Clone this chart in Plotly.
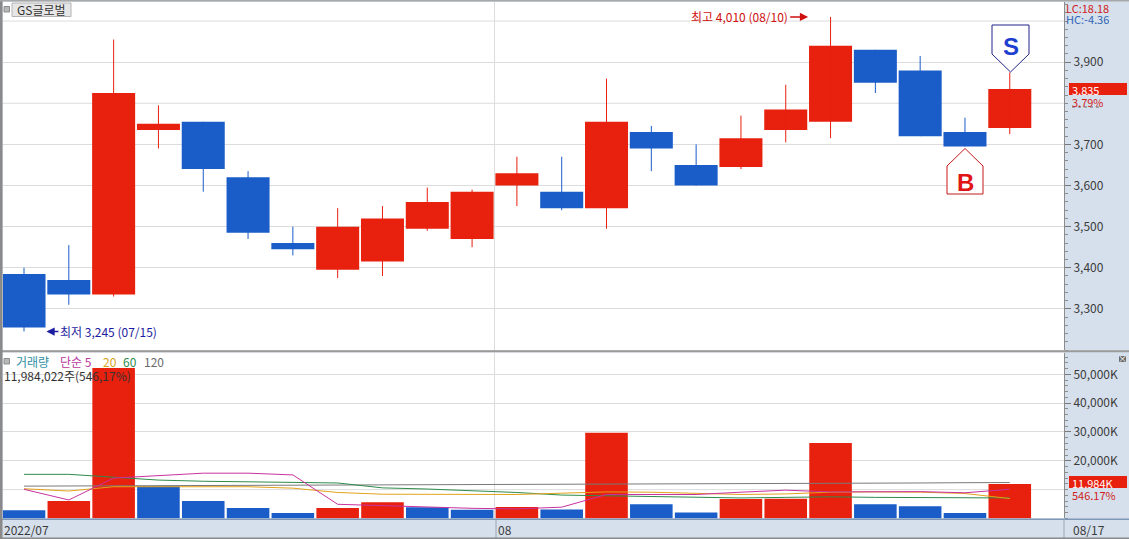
import plotly.graph_objects as go

# ---------------- data ----------------
dates = ["07/15", "07/18", "07/19", "07/20", "07/21", "07/22", "07/25", "07/26",
         "07/27", "07/28", "07/29", "08/01", "08/02", "08/03", "08/04", "08/05",
         "08/08", "08/09", "08/10", "08/11", "08/12", "08/16", "08/17"]

open_ = [3385, 3370, 3335, 3735, 3755, 3620, 3460, 3395, 3415, 3495, 3470, 3600,
         3585, 3545, 3730, 3650, 3645, 3735, 3755, 3930, 3880, 3730, 3740]
high = [3400, 3455, 3955, 3795, 3755, 3635, 3500, 3545, 3550, 3595, 3590, 3670,
        3670, 3860, 3745, 3700, 3770, 3845, 4010, 3930, 3915, 3765, 3875]
low = [3245, 3310, 3330, 3690, 3585, 3470, 3430, 3375, 3380, 3490, 3450, 3550,
       3540, 3495, 3635, 3600, 3640, 3705, 3715, 3825, 3720, 3695, 3725]
close = [3255, 3335, 3825, 3750, 3640, 3485, 3445, 3500, 3520, 3560, 3585, 3630,
         3545, 3755, 3690, 3600, 3715, 3785, 3940, 3850, 3720, 3695, 3835]

# volume in thousand shares
volume_k = [2800, 6000, 52200, 11200, 6000, 3600, 1850, 3600, 5600, 3850, 3000, 3950,
            3100, 29700, 4900, 2050, 6700, 6800, 26200, 4900, 4200, 1855, 11984]

ma5_k = [10100, 6400, 14000, 14900, 15700, 15700, 15100, 4900, 4400, 4100, 3500, 3300,
         3900, 8300, 8300, 8300, 9100, 9800, 9200, 9200, 9300, 8900, 10100]
ma20_k = [10300, 9500, 11000, 11000, 11000, 11000, 10500, 9000, 8400, 8300, 8300, 8300,
          8750, 9200, 9100, 8750, 8300, 8500, 9100, 9200, 9100, 8650, 6900]
ma60_k = [15300, 15300, 14300, 13300, 12900, 12800, 12500, 12300, 10600, 10200, 9700, 9000,
          8100, 7800, 7500, 7300, 7100, 7300, 7500, 7300, 7300, 7100, 7100]
ma120_k = [11200, 11250, 11300, 11350, 11400, 11400, 11450, 11500, 11500, 11550, 11600, 11650,
           11700, 11750, 11800, 11850, 11900, 12000, 12100, 12200, 12300, 12400, 12450]

price_ticks = [3300, 3400, 3500, 3600, 3700, 3900]
price_tick_text = ["3,300", "3,400", "3,500", "3,600", "3,700", "3,900"]
price_extra_grid = [3800, 4000]          # gridlines whose labels are hidden
vol_ticks = [20000, 30000, 40000, 50000]
vol_tick_text = ["20,000K", "30,000K", "40,000K", "50,000K"]
vol_extra_grid = [10000]

# ---------------- styling ----------------
W, H = 1129, 539
RED = "#E8200E"
BLUE = "#1A5CC8"
BG_AXIS = "#D6E0EC"
GRID = "#DCDCDC"
FONT = "Noto Sans CJK KR"


def fx(px):
    return px / W


def fy(py):
    return 1 - py / H


idx = list(range(len(dates)))
candle_colors = [RED if c >= o else BLUE for o, c in zip(open_, close)]
body_base = [min(o, c) for o, c in zip(open_, close)]
body_h = [max(abs(c - o), 2) for o, c in zip(open_, close)]

vol_colors = [BLUE] + [RED if volume_k[i] > volume_k[i - 1] else BLUE for i in range(1, len(volume_k))]

fig = go.Figure()

# wicks
for col in (RED, BLUE):
    wx, wy = [], []
    for i in idx:
        if candle_colors[i] == col:
            wx += [i, i, None]
            wy += [low[i], high[i], None]
    fig.add_trace(go.Scatter(x=wx, y=wy, mode="lines", line=dict(color=col, width=1),
                             hoverinfo="skip", xaxis="x", yaxis="y"))

# bodies
fig.add_trace(go.Bar(x=idx, y=body_h, base=body_base, width=0.96,
                     marker=dict(color=candle_colors, line=dict(width=0)),
                     customdata=dates, xaxis="x", yaxis="y"))

# volume
fig.add_trace(go.Bar(x=idx, y=volume_k, width=0.95,
                     marker=dict(color=vol_colors, line=dict(width=0)),
                     xaxis="x2", yaxis="y2"))

for vals, col in ((ma120_k, "#7A7A7A"), (ma60_k, "#2E8B4A"), (ma20_k, "#E3A21A"), (ma5_k, "#C8329E")):
    fig.add_trace(go.Scatter(x=idx, y=vals, mode="lines", line=dict(color=col, width=1),
                             xaxis="x2", yaxis="y2", hoverinfo="skip"))

xr = [-0.469, 23.21]
tickfont = dict(family=FONT, size=12, color="#3A3A3A")

fig.update_layout(
    template="none",
    width=W, height=H,
    margin=dict(l=0, r=0, t=0, b=0),
    paper_bgcolor=BG_AXIS,
    plot_bgcolor="white",
    showlegend=False,
    barmode="overlay",
    xaxis=dict(domain=[fx(3), fx(1064)], range=xr, showticklabels=False, showgrid=False,
               zeroline=False, ticks="", anchor="y", automargin=False),
    xaxis2=dict(domain=[fx(3), fx(1064)], range=xr, showticklabels=False, showgrid=False,
                zeroline=False, ticks="", anchor="y2", automargin=False),
    yaxis=dict(domain=[fy(350), fy(2)], range=[3200, 4046.3], side="right", anchor="x",
               tickvals=price_ticks, ticktext=price_tick_text, ticks="outside", ticklen=6,
               tickcolor="#7A7A7A", showline=True, linecolor="#8C8C8C", linewidth=1,
               showgrid=True, gridcolor=GRID, gridwidth=1, zeroline=False,
               tickfont=tickfont, automargin=False,
               minor=dict(dtick=20, ticks="outside", ticklen=3, tickcolor="#8C8C8C", showgrid=False)),
    yaxis2=dict(domain=[fy(518.4), fy(352.5)], range=[0, 57600], side="right", anchor="x2",
                tickvals=vol_ticks, ticktext=vol_tick_text, ticks="outside", ticklen=6,
                tickcolor="#7A7A7A", showline=True, linecolor="#8C8C8C", linewidth=1,
                showgrid=True, gridcolor=GRID, gridwidth=1, zeroline=False,
                tickfont=tickfont, automargin=False,
                minor=dict(dtick=2000, ticks="outside", ticklen=3, tickcolor="#8C8C8C", showgrid=False)),
)

shapes = []
# unlabeled gridlines
for v in price_extra_grid:
    shapes.append(dict(type="line", xref="x domain", yref="y", x0=0, x1=1, y0=v, y1=v,
                       line=dict(color=GRID, width=1), layer="below"))
for v in vol_extra_grid:
    shapes.append(dict(type="line", xref="x2 domain", yref="y2", x0=0, x1=1, y0=v, y1=v,
                       line=dict(color=GRID, width=1), layer="below"))
# month boundary gridlines
shapes.append(dict(type="line", xref="x", yref="y domain", x0=10.5, x1=10.5, y0=0, y1=1,
                   line=dict(color=GRID, width=1), layer="below"))
shapes.append(dict(type="line", xref="x2", yref="y2 domain", x0=10.5, x1=10.5, y0=0, y1=1,
                   line=dict(color=GRID, width=1), layer="below"))
# panel separator
shapes.append(dict(type="line", xref="paper", yref="paper", x0=0, x1=1, y0=fy(351.2), y1=fy(351.2),
                   line=dict(color="#9A9A9A", width=2)))
# date axis top line
shapes.append(dict(type="line", xref="paper", yref="paper", x0=0, x1=1, y0=fy(519.2), y1=fy(519.2),
                   line=dict(color="#7F98B8", width=1.5)))
# date axis separators
for px in (496, 1064):
    shapes.append(dict(type="line", xref="paper", yref="paper", x0=fx(px), x1=fx(px),
                       y0=fy(520), y1=fy(538), line=dict(color="#9AA6B4", width=1)))
# window borders
shapes.append(dict(type="rect", xref="paper", yref="paper", x0=0, x1=fx(2.5), y0=0, y1=1,
                   fillcolor="#8A8A8A", line=dict(width=0)))
shapes.append(dict(type="rect", xref="paper", yref="paper", x0=0, x1=1, y0=fy(1.5), y1=1,
                   fillcolor="#A8A8A8", line=dict(width=0)))
shapes.append(dict(type="rect", xref="paper", yref="paper", x0=0, x1=1, y0=0, y1=fy(537.5),
                   fillcolor="#8A8A8A", line=dict(width=0)))
# title button
shapes.append(dict(type="rect", xref="paper", yref="paper", x0=fx(12), x1=fx(71), y0=fy(16.5), y1=fy(3),
                   fillcolor="#E6E6E6", line=dict(color="#B4B4B4", width=1)))
shapes.append(dict(type="rect", xref="paper", yref="paper", x0=fx(4), x1=fx(9.5), y0=fy(12), y1=fy(6.5),
                   fillcolor="#B8B8B8", line=dict(color="#8C8C8C", width=1)))
# volume legend icon
shapes.append(dict(type="rect", xref="paper", yref="paper", x0=fx(4), x1=fx(9.5), y0=fy(364), y1=fy(358.5),
                   fillcolor="#B8B8B8", line=dict(color="#8C8C8C", width=1)))
# close icon
shapes.append(dict(type="rect", xref="paper", yref="paper", x0=fx(1119), x1=fx(1126), y0=fy(362), y1=fy(356),
                   fillcolor="#6A6A6A", line=dict(width=0)))
# current price box
shapes.append(dict(type="rect", xref="paper", yref="paper", x0=fx(1069), x1=fx(1127), y0=fy(95), y1=fy(83),
                   fillcolor=RED, line=dict(width=0)))
shapes.append(dict(type="line", xref="paper", yref="paper", x0=fx(1072), x1=fx(1101), y0=fy(107), y1=fy(107),
                   line=dict(color="#6A6A6A", width=1, dash="dot")))
# current volume box
shapes.append(dict(type="rect", xref="paper", yref="paper", x0=fx(1069), x1=fx(1127), y0=fy(488), y1=fy(476),
                   fillcolor=RED, line=dict(width=0)))
# S marker (sell)
s_pts = [(992, 25), (1029, 25), (1029, 54), (1010.5, 72), (992, 54)]
shapes.append(dict(type="path", xref="paper", yref="paper",
                   path="M " + " L ".join(f"{fx(a)},{fy(b)}" for a, b in s_pts) + " Z",
                   fillcolor="white", line=dict(color="#22228C", width=1)))
# B marker (buy)
b_pts = [(965, 148.5), (983, 166), (983, 194), (947, 194), (947, 166)]
shapes.append(dict(type="path", xref="paper", yref="paper",
                   path="M " + " L ".join(f"{fx(a)},{fy(b)}" for a, b in b_pts) + " Z",
                   fillcolor="white", line=dict(color="#C41818", width=1)))
fig.update_layout(shapes=shapes)

ann = []


def txt(text, x, y, color="#333333", size=12, xanchor="left", family=FONT, height=None):
    a = dict(text=text, x=fx(x), y=fy(y), xref="paper", yref="paper", showarrow=False,
             xanchor=xanchor, yanchor="middle", font=dict(family=family, size=size, color=color),
             borderpad=0)
    if height:
        a["height"] = height
        a["valign"] = "middle"
    ann.append(a)


txt("GS글로벌", 41.5, 10, "#333333", 12, "center")
txt("LC:18,18", 1065, 7, "#D02020", 11, height=11)
txt("HC:-4,36", 1065, 19, "#2F64B4", 11, height=11)
txt("3,835", 1071, 89, "white", 11, height=11)
txt("3,79%", 1071, 101, "#D02020", 11, height=11)
txt("11,984K", 1071, 482, "white", 11, height=11)
txt("546,17%", 1071, 494, "#D02020", 11, height=11)
txt("×", 1122.5, 358.5, "white", 9, "center")
txt("거래량", 15, 361, "#2F8FA5", 12)
txt("단순 5", 59, 361, "#B8349E", 12)
txt("20", 102, 361, "#D9A21A", 12)
txt("60", 122, 361, "#2E8B4A", 12)
txt("120", 143, 361, "#6A6A6A", 12)
txt("11,984,022주(546,17%)", 3, 375, "#333333", 12)
txt("2022/07", 3, 529, "#3A3A3A", 12)
txt("08", 497, 529, "#3A3A3A", 12)
txt("08/17", 1072, 529, "#3A3A3A", 12)
txt("<b>S</b>", 1010.5, 46, "#1F3FD0", 24, "center", "Liberation Sans")
txt("<b>B</b>", 965, 182, "#E01515", 24, "center", "Liberation Sans")

lo_i = low.index(min(low))
hi_i = high.index(max(high))
ann.append(dict(text=f"최저 {min(low):,} ({dates[lo_i]})", x=lo_i + 0.5, y=min(low), xref="x", yref="y",
                showarrow=True, ax=12, ay=0, axref="pixel", ayref="pixel", xanchor="left", yanchor="middle",
                arrowhead=2, arrowsize=1.1, arrowwidth=1.5, arrowcolor="#1C1CA0",
                font=dict(family=FONT, size=12, color="#1C1CA0")))
ann.append(dict(text=f"최고 {max(high):,} ({dates[hi_i]})", x=hi_i - 0.5, y=max(high), xref="x", yref="y",
                showarrow=True, ax=-18, ay=0, axref="pixel", ayref="pixel", xanchor="right", yanchor="middle",
                arrowhead=2, arrowsize=1.1, arrowwidth=1.5, arrowcolor="#D01010",
                font=dict(family=FONT, size=12, color="#D01010")))
fig.update_layout(annotations=ann)

fig.write_html("out.html", config={"displayModeBar": False},
               post_script="document.body.style.margin='0';document.body.style.overflow='hidden';")
